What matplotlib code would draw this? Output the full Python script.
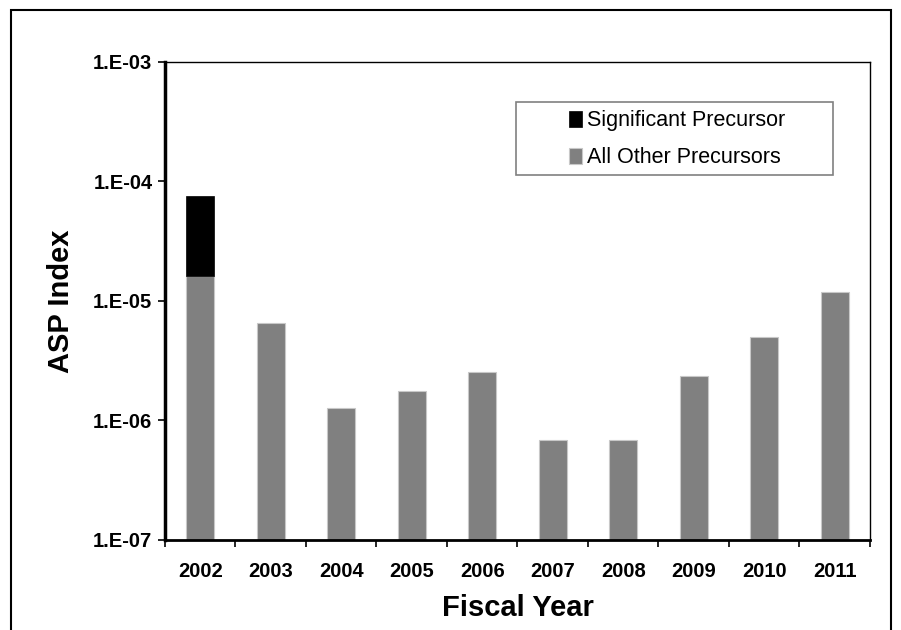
import matplotlib.pyplot as plt
import matplotlib.patches as patches
import numpy as np

plt.rcParams['font.family'] = ['Liberation Sans', 'DejaVu Sans']

years = ['2002', '2003', '2004', '2005', '2006', '2007', '2008', '2009', '2010', '2011']
# total ASP index of all other precursors per fiscal year
other = [1.63e-5, 6.5e-6, 1.28e-6, 1.75e-6, 2.56e-6, 6.9e-7, 6.9e-7, 2.37e-6, 4.98e-6, 1.2e-5]
# significant precursor (stacked on top), only 2002
significant = [5.9e-5, 0, 0, 0, 0, 0, 0, 0, 0, 0]
ytick_vals = [1e-7, 1e-6, 1e-5, 1e-4, 1e-3]
ytick_labels = ['1.E-07', '1.E-06', '1.E-05', '1.E-04', '1.E-03']

fig = plt.figure(figsize=(9.01, 6.30), dpi=100)
ax = fig.add_axes([0.183, 0.1429, 0.7826, 0.7587])

x = np.arange(len(years))
ax.set_yscale('log')
ax.bar(x, other, width=0.4, color='#808080', edgecolor='#c8c8c8',
       linewidth=0.8, label='All Other Precursors', zorder=2)
sig = np.array(significant)
ax.bar(x[sig > 0], sig[sig > 0], width=0.4, bottom=np.array(other)[sig > 0],
       color='black', edgecolor='black', linewidth=0.5,
       label='Significant Precursor', zorder=2)

ax.set_ylim(1e-7, 1e-3)
ax.set_xlim(-0.5, len(years) - 0.5)
ax.set_yticks(ytick_vals)
ax.set_yticklabels(ytick_labels, fontsize=14.5, fontweight='bold')
ax.yaxis.set_minor_locator(plt.NullLocator())

ax.set_xticks(x)
ax.set_xticklabels(years, fontsize=14.5, fontweight='bold')
ax.tick_params(axis='x', which='major', length=0, pad=16)
ax.set_xticks(np.arange(-0.5, len(years)), minor=True)
ax.tick_params(axis='x', which='minor', length=5, width=1.2, direction='out')
ax.tick_params(axis='y', which='major', length=5, width=1.2, direction='out', pad=4)

ax.spines['left'].set_linewidth(2.5)
ax.spines['bottom'].set_linewidth(2)
ax.spines['top'].set_linewidth(1)
ax.spines['right'].set_linewidth(1)

ax.set_ylabel('ASP Index', fontsize=21, fontweight='bold')
ax.yaxis.set_label_coords(-0.127, 0.5)
ax.set_xlabel('Fiscal Year', fontsize=21, fontweight='bold', labelpad=9)

# legend box (wider than its entries, as in the original)
ax.add_patch(patches.Rectangle((0.498, 0.764), 0.4495, 0.152, transform=ax.transAxes,
                               fill=True, facecolor='white', edgecolor='#808080',
                               linewidth=1.2, zorder=3))
handles, labels = ax.get_legend_handles_labels()
leg = ax.legend(handles[::-1], labels[::-1], loc='center left',
                bbox_to_anchor=(0.573, 0.838), fontsize=15.5, frameon=False,
                handlelength=0.6, handleheight=0.8, handletextpad=0.25,
                borderpad=0, labelspacing=0.75, borderaxespad=0)
leg.set_zorder(4)

# outer frame around the figure
fig.patches.append(patches.Rectangle((11 / 901, -0.05), 880 / 901, 1 - 10 / 630 + 0.05,
                                     transform=fig.transFigure, fill=False,
                                     edgecolor='black', linewidth=1.5))

fig.savefig('out.png', dpi=100)
